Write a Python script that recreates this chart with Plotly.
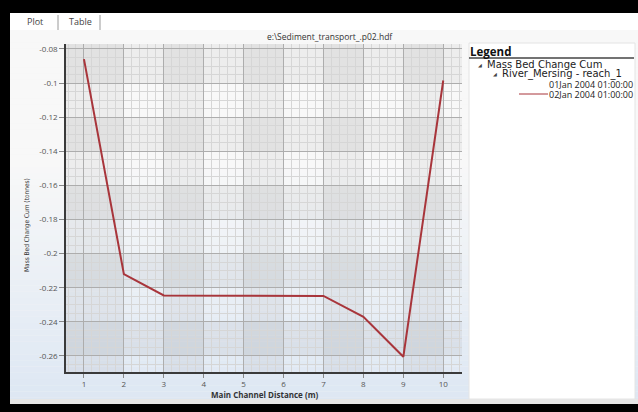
import plotly.graph_objects as go

# Cross-section stations along the main channel and cumulative mass bed change
distance_m = [1, 2, 3, 4, 5, 6, 7, 8, 9, 10]
mass_change_02jan = [-0.086, -0.212, -0.2245, -0.2245, -0.2248, -0.2248, -0.2248, -0.237, -0.2605, -0.0985]

x_tick_vals = [1, 2, 3, 4, 5, 6, 7, 8, 9, 10]
x_tick_text = ["1", "2", "3", "4", "5", "6", "7", "8", "9", "10"]
y_tick_vals = [-0.08, -0.1, -0.12, -0.14, -0.16, -0.18, -0.2, -0.22, -0.24, -0.26]
y_tick_text = ["-0.08", "-0.1", "-0.12", "-0.14", "-0.16", "-0.18", "-0.2", "-0.22", "-0.24", "-0.26"]

legend_items = ["Mass Bed Change Cum", "River_Mersing - reach_1",
                "01Jan 2004 01:00:00", "02Jan 2004 01:00:00"]

W, H = 638, 412
X_RANGE = [0.55, 10.47]
Y_RANGE = [-0.2694, -0.0771]
PLOT_L, PLOT_R, PLOT_T, PLOT_B = 66, 462, 44, 372
LINE_RED = "#a8353b"
FONT = "Open Sans"


def px(x):
    return x / W


def py(y):
    return 1 - y / H


fig = go.Figure()
fig.add_trace(go.Scatter(
    x=distance_m, y=mass_change_02jan, mode="lines",
    line=dict(color=LINE_RED, width=2), name=legend_items[3],
    showlegend=False, hoverinfo="x+y",
))

shapes = []

# window background: near-white at the top fading to pale blue at the bottom
top_c, bot_c = (248, 248, 248), (221, 231, 243)
g0, g1 = 30, 404
n = 60
for i in range(n):
    y0 = g0 + (g1 - g0) * i / n
    y1 = g0 + (g1 - g0) * (i + 1) / n
    t = max(0.0, (i / (n - 1) - 0.35) / 0.65)
    c = tuple(round(a + (b - a) * t) for a, b in zip(top_c, bot_c))
    shapes.append(dict(type="rect", xref="paper", yref="paper", layer="below",
                       x0=px(10), x1=px(W), y0=py(y1), y1=py(y0),
                       fillcolor="rgb(%d,%d,%d)" % c, line=dict(width=0)))

# tab strip
shapes.append(dict(type="rect", xref="paper", yref="paper", layer="below",
                   x0=px(10), x1=px(W), y0=py(30), y1=py(13),
                   fillcolor="#ffffff", line=dict(width=0)))
for sx in (58, 100):
    shapes.append(dict(type="line", xref="paper", yref="paper", layer="below",
                       x0=px(sx), x1=px(sx), y0=py(30), y1=py(15),
                       line=dict(color="#9a9a9a", width=1)))

# alternating shaded columns and rows inside the plot area
col_bands = [(X_RANGE[0], 2), (3, 4), (5, 6), (7, 8), (9, 10)]
row_bands = [(-0.1, Y_RANGE[1]), (-0.14, -0.12), (-0.18, -0.16), (-0.22, -0.2), (-0.26, -0.24)]
for a, b in col_bands:
    shapes.append(dict(type="rect", xref="x", yref="y", layer="below",
                       x0=a, x1=b, y0=Y_RANGE[0], y1=Y_RANGE[1],
                       fillcolor="rgba(0,0,0,0.045)", line=dict(width=0)))
for a, b in row_bands:
    shapes.append(dict(type="rect", xref="x", yref="y", layer="below",
                       x0=X_RANGE[0], x1=X_RANGE[1], y0=a, y1=b,
                       fillcolor="rgba(0,0,0,0.045)", line=dict(width=0)))

# legend panel
shapes.append(dict(type="rect", xref="paper", yref="paper", layer="below",
                   x0=px(469), x1=px(635), y0=py(399), y1=py(43),
                   fillcolor="#ffffff", line=dict(color="#e4e4e4", width=1)))
shapes.append(dict(type="line", xref="paper", yref="paper",
                   x0=px(469), x1=px(634), y0=py(58), y1=py(58),
                   line=dict(color="#444444", width=1.5)))
shapes.append(dict(type="line", xref="paper", yref="paper",
                   x0=px(519), x1=px(548), y0=py(94), y1=py(94),
                   line=dict(color=LINE_RED, width=1)))

# bottom status line and the black frame
shapes.append(dict(type="rect", xref="paper", yref="paper",
                   x0=px(10), x1=px(W), y0=py(404), y1=py(399),
                   fillcolor="#e6e6e6", line=dict(width=0)))
for x0, x1, y0, y1 in [(0, W, 0, 13), (0, W, 404, H), (0, 10, 0, H)]:
    shapes.append(dict(type="rect", xref="paper", yref="paper",
                       x0=px(x0), x1=px(x1), y0=py(y1), y1=py(y0),
                       fillcolor="#000000", line=dict(width=0)))

TREE_FONT = dict(family="DejaVu Sans", size=10, color="#222")
DATE_FONT = dict(family=FONT, size=9, color="#222")
annotations = [
    dict(text="Plot", x=px(26), y=py(22), xanchor="left", yanchor="middle",
         font=dict(family=FONT, size=9, color="#444")),
    dict(text="Table", x=px(68), y=py(22), xanchor="left", yanchor="middle",
         font=dict(family=FONT, size=9, color="#444")),
    dict(text="e:\\Sediment_transport_.p02.hdf", x=px(330), y=py(37),
         xanchor="center", yanchor="middle",
         font=dict(family=FONT, size=8.5, color="#333")),
    dict(text="<b>Main Channel Distance (m)</b>", x=px(264), y=py(394),
         xanchor="center", yanchor="middle",
         font=dict(family=FONT, size=8, color="#333")),
    dict(text="Mass Bed Change Cum (tonnes)", x=px(27), y=py(225), textangle=-90,
         xanchor="center", yanchor="middle",
         font=dict(family="Liberation Sans Narrow, DejaVu Sans Condensed", size=6.5, color="#333")),
    dict(text="<b>Legend</b>", x=px(469), y=py(51), xanchor="left", yanchor="middle",
         font=dict(family=FONT, size=11.5, color="#111")),
    dict(text="◢", x=px(477), y=py(64.5), xanchor="left", yanchor="middle",
         font=dict(family="DejaVu Sans", size=5, color="#444")),
    dict(text=legend_items[0], x=px(486), y=py(64.5), xanchor="left", yanchor="middle",
         font=TREE_FONT),
    dict(text="◢", x=px(492), y=py(74.5), xanchor="left", yanchor="middle",
         font=dict(family="DejaVu Sans", size=5, color="#444")),
    dict(text=legend_items[1], x=px(501), y=py(74.5), xanchor="left", yanchor="middle",
         font=TREE_FONT),
    dict(text=legend_items[2], x=px(634), y=py(84.5), xanchor="right", yanchor="middle",
         font=DATE_FONT),
    dict(text=legend_items[3], x=px(634), y=py(94), xanchor="right", yanchor="middle",
         font=DATE_FONT),
]
for a in annotations:
    a.setdefault("xref", "paper")
    a.setdefault("yref", "paper")
    a.setdefault("showarrow", False)
    a.setdefault("borderpad", 0)

fig.update_layout(
    width=W, height=H,
    margin=dict(l=0, r=0, t=0, b=0),
    paper_bgcolor="#f4f4f4",
    plot_bgcolor="rgba(0,0,0,0)",
    showlegend=False,
    shapes=shapes,
    annotations=annotations,
    xaxis=dict(
        domain=[px(PLOT_L), px(PLOT_R)], range=X_RANGE,
        tickvals=x_tick_vals, ticktext=x_tick_text,
        showgrid=True, gridcolor="#adadad", gridwidth=1,
        minor=dict(dtick=0.2, tick0=0, showgrid=True, gridcolor="#d6d6d6", gridwidth=1),
        showline=True, linecolor="#3a3a3a", linewidth=1.5,
        ticks="outside", ticklen=4, tickcolor="#888",
        tickfont=dict(family=FONT, size=8, color="#555"),
        zeroline=False, fixedrange=True,
    ),
    yaxis=dict(
        domain=[py(PLOT_B), py(PLOT_T)], range=Y_RANGE,
        tickvals=y_tick_vals, ticktext=y_tick_text,
        showgrid=True, gridcolor="#adadad", gridwidth=1,
        minor=dict(dtick=0.005, tick0=0, showgrid=True, gridcolor="#d6d6d6", gridwidth=1),
        showline=True, linecolor="#3a3a3a", linewidth=1.5,
        ticks="outside", ticklen=5, tickcolor="#888",
        tickfont=dict(family=FONT, size=8, color="#555"),
        zeroline=False, fixedrange=True,
    ),
)

fig.write_html("out.html")
